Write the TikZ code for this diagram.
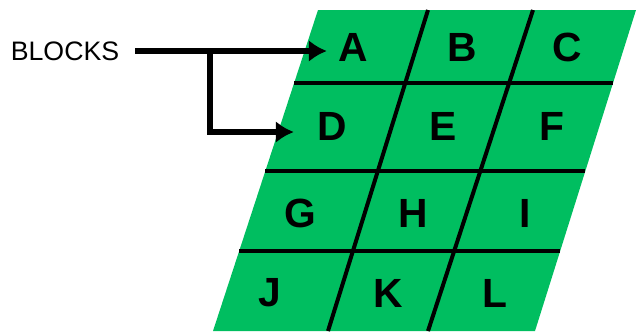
\documentclass[tikz,border=0pt]{standalone}
\usepackage{fontspec}
\setmainfont{Liberation Sans}
\usetikzlibrary{arrows.meta,positioning}
\definecolor{blockgreen}{RGB}{0,190,96}

\begin{document}
\begin{tikzpicture}[
    x=0.025cm, y=-0.025cm,
    cell/.style={font=\fontsize{29}{29}\selectfont\bfseries, inner sep=0.28cm},
    tagtext/.style={font=\fontsize{19}{19}\selectfont, inner sep=0.4cm},
    gridline/.style={line width=0.1cm},
    arr/.style={-{Latex[length=0.45cm, width=0.55cm]}, line width=0.15cm}
]
\useasboundingbox (0,0) rectangle (637,331);
% green sheet
\fill[blockgreen] (318,10) -- (636,10) -- (535,331) -- (213,331) -- cycle;
\draw[gridline] (294,83) -- (613,83);
\draw[gridline] (265,171) -- (585,171);
\draw[gridline] (239,251) -- (560,251);
\draw[gridline] (428,10) -- (328,331);
\draw[gridline] (533,10) -- (428,331);
% cells
\node[cell] (A) at (353,47) {A};
\node[cell] (B) at (462,47) {B};
\node[cell] (C) at (567,47) {C};
\node[cell] (D) at (332,126) {D};
\node[cell] (E) at (443,126) {E};
\node[cell] (F) at (552,126) {F};
\node[cell] (G) at (300,213) {G};
\node[cell] (H) at (413,213) {H};
\node[cell] (I) at (525,213) {I};
\node[cell] (J) at (270,293) {J};
\node[cell] (K) at (388,293) {K};
\node[cell] (L) at (495,293) {L};
% label and arrows
\node[tagtext] (blocks) at (65,51) {BLOCKS};
\coordinate (fork) at (210,51);
\draw[arr] (blocks.east) -- (blocks.east -| A.west);
\draw[arr, shorten >=0.3cm] (fork) |- ([yshift=-0.15cm]D.west);
\end{tikzpicture}
\end{document}
